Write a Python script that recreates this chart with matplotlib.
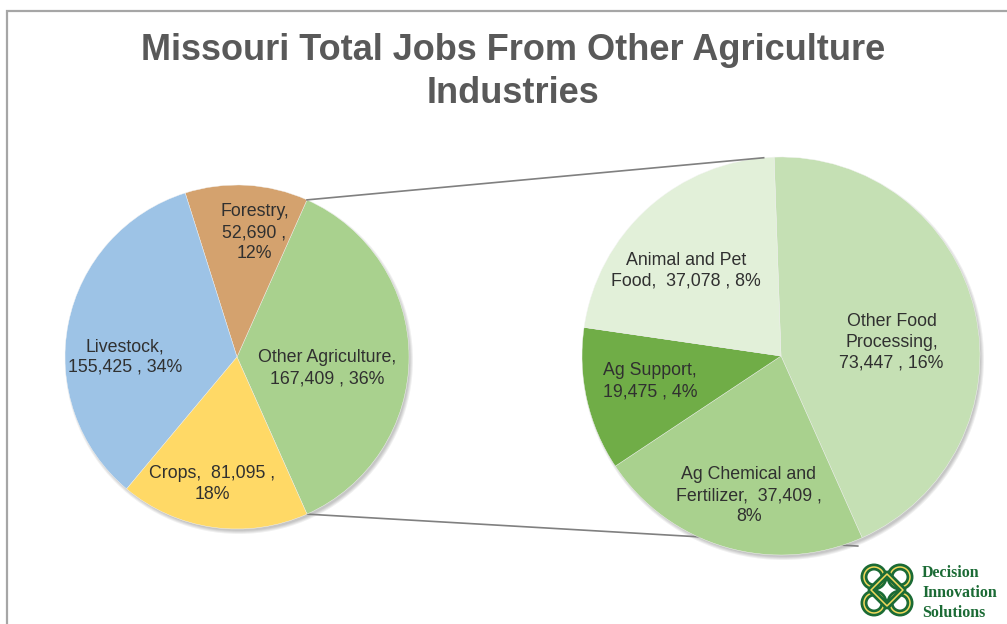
import numpy as np
import matplotlib.pyplot as plt
from matplotlib.patches import Circle, Polygon

# main pie
main_names = ['Other Agriculture', 'Forestry', 'Livestock', 'Crops']
main_vals = [167409, 52690, 155425, 81095]
main_pct = [36, 12, 34, 18]
main_colors = ['#A9D18E', '#D4A26E', '#9DC3E6', '#FFD966']
main_fmt = ['{n},\n{v} , {p}', '{n},\n{v} ,\n{p}', '{n},\n{v} , {p}', '{n},  {v} ,\n{p}']

# breakdown of "Other Agriculture"
sub_names = ['Other Food Processing', 'Ag Chemical and Fertilizer', 'Ag Support', 'Animal and Pet Food']
sub_vals = [73447, 37409, 19475, 37078]
sub_pct = [16, 8, 4, 8]
sub_colors = ['#C5E0B4', '#A9D18E', '#70AD47', '#E2F0D9']
sub_fmt = ['Other Food\nProcessing,\n{v} , {p}', 'Ag Chemical and\nFertilizer,  {v} ,\n{p}',
           '{n},\n{v} , {p}', 'Animal and Pet\nFood,  {v} , {p}']

W, H = 1007, 624


def Y(y):
    return H - y


fig = plt.figure(figsize=(W / 100, H / 100), dpi=100)
ax = fig.add_axes([0, 0, 1, 1])

# chart border (cut off on the right / bottom)
ax.plot([7, 7, W + 5], [-5, Y(11), Y(11)], color='#A6A6A6', lw=1.6, solid_joinstyle='miter')

ax.text(513, Y(72), 'Missouri Total Jobs From Other Agriculture\nIndustries', ha='center', va='center',
        fontsize=26, fontweight='bold', color='#595959', family='Liberation Sans', linespacing=1.3)

c1, r1 = (237, Y(357)), 172
c2, r2 = (781, Y(356)), 199

# soft drop shadows
for c, r in [(c1, r1), (c2, r2)]:
    for k in range(4):
        ax.add_patch(Circle((c[0] + 2, c[1] - 3), r + 2 - k, color='black', alpha=0.06, lw=0, zorder=1))

frac0 = main_vals[0] / sum(main_vals)
w1, _ = ax.pie(main_vals, colors=main_colors, center=c1, radius=r1, startangle=-frac0 * 180,
               counterclock=True, wedgeprops=dict(edgecolor='#f4f4f4', linewidth=0.3, zorder=2),
               frame=True)
w2, _ = ax.pie(sub_vals, colors=sub_colors, center=c2, radius=r2, startangle=92,
               counterclock=False, wedgeprops=dict(edgecolor='#f4f4f4', linewidth=0.3, zorder=2),
               frame=True)
ax.set_xlim(0, W)
ax.set_ylim(0, H)
ax.set_aspect('equal')
ax.axis('off')

# label placement (distance as fraction of radius, angle in degrees)
main_pos = [(0.53, -7), (0.73, 82), (0.65, 180), (0.75, -101)]
sub_pos = [(0.56, 7), (0.72, -103), (0.67, 191), (0.64, 138)]


def put_labels(c, r, names, vals, pcts, fmts, pos):
    for n, v, p, f, (d, a) in zip(names, vals, pcts, fmts, pos):
        t = f.format(n=n, v=f'{v:,}', p=f'{p}%')
        x = c[0] + d * r * np.cos(np.radians(a))
        y = c[1] + d * r * np.sin(np.radians(a))
        ax.text(x, y, t, ha='center', va='center', fontsize=12.8, color='#303030',
                family='Liberation Sans', linespacing=1.3, zorder=5)


put_labels(c1, r1, main_names, main_vals, main_pct, main_fmt, main_pos)
put_labels(c2, r2, sub_names, sub_vals, sub_pct, sub_fmt, sub_pos)

# connector lines
t1, t2 = w1[0].theta1, w1[0].theta2
pa = (c1[0] + r1 * np.cos(np.radians(t2)), c1[1] + r1 * np.sin(np.radians(t2)))
pb = (c1[0] + r1 * np.cos(np.radians(t1)), c1[1] + r1 * np.sin(np.radians(t1)))
qa = (c2[0] + r2 * np.cos(np.radians(95)), c2[1] + r2 * np.sin(np.radians(95)))
qb = (c2[0] + 1.03 * r2 * np.cos(np.radians(-68)), c2[1] + 1.03 * r2 * np.sin(np.radians(-68)))
ax.plot([pa[0], qa[0]], [pa[1], qa[1]], color='#808080', lw=1.2, zorder=3)
ax.plot([pb[0], qb[0]], [pb[1], qb[1]], color='#808080', lw=1.2, zorder=1.5)

# logo (rough knot)
lx, ly = 887, Y(590)
green, gold = '#1B6B35', '#F2D95C'
for dx, dy in [(-13, 13), (13, 13), (-13, -13), (13, -13)]:
    ax.add_patch(Circle((lx + dx, ly + dy), 10, fill=False, ec=green, lw=5, zorder=6))
    ax.add_patch(Circle((lx + dx, ly + dy), 10, fill=False, ec=gold, lw=1.1, zorder=7))
dia = [[lx, ly + 16], [lx + 16, ly], [lx, ly - 16], [lx - 16, ly]]
ax.add_patch(Polygon(dia, closed=True, fill=False, ec=green, lw=5, joinstyle='round', zorder=8))
ax.add_patch(Polygon(dia, closed=True, fill=False, ec=gold, lw=1.1, joinstyle='round', zorder=9))
ax.text(922, Y(593), 'Decision\nInnovation\nSolutions', ha='left', va='center', fontsize=11.5,
        fontweight='bold', color='#1B6B35', family='Liberation Serif', linespacing=1.3, zorder=6)

fig.savefig('out.png', dpi=100)
